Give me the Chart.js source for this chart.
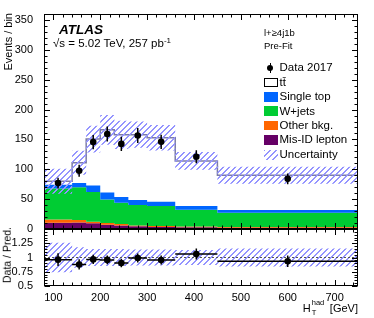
<!DOCTYPE html>
<html>
<head>
<meta charset="utf-8">
<script src="https://cdn.jsdelivr.net/npm/chart.js"></script>
<style>
  html, body { margin: 0; padding: 0; background: #fff; }
  #wrap { position: relative; width: 374px; height: 318px; overflow: hidden; font-family: 'Liberation Sans', Arial, Helvetica, sans-serif; color: #000; }
  #wrap canvas { position: absolute; left: 0; top: 0; }
  .t { position: absolute; white-space: nowrap; line-height: 1; }
  .rot { transform-origin: 0 0; transform: rotate(-90deg) translate(-100%, -50%); }
  .sw { position: absolute; box-sizing: border-box; width: 14px; height: 9.5px; }
</style>
</head>
<body>
<div id="wrap">
  <canvas id="c" width="374" height="318"></canvas>
  <div class="t" style="left:59px; top:22.5px; font-size:13.5px; font-weight:bold; font-style:italic;">ATLAS</div>
  <div class="t" style="left:53px; top:36.5px; font-size:11.5px;">√s = 5.02 TeV, 257 pb<sup style="font-size:8px; vertical-align:4px;">-1</sup></div>
  <div class="t" style="left:264px; top:28px; font-size:9.5px;">l+≥4j1b</div>
  <div class="t" style="left:264px; top:41px; font-size:9.5px;">Pre-Fit</div>
  <div class="t rot" style="left:7.5px; top:13px; font-size:11px;">Events / bin</div>
  <div class="t rot" style="left:7px; top:227px; font-size:10.5px;">Data / Pred.</div>
  <div class="t" style="right:16px; top:302px; font-size:11px;">H<span style="display:inline-block; position:relative; width:13px; height:10px;"><span style="position:absolute; left:1px; top:-3px; font-size:7.5px;">had</span><span style="position:absolute; left:1px; top:7px; font-size:7.5px;">T</span></span>&nbsp; [GeV]</div>
  <div id="legend"></div>
</div>
<script>
// bin edges of H_T^had [GeV]
const edges = [80, 140, 170, 200, 230, 260, 300, 360, 450, 750];

// pre-fit predictions per bin
const misid = [10.5, 11, 9.5, 7, 6, 4.5, 3.5, 3, 2];
const otherBkg = [5.5, 4, 2.5, 3, 2.5, 1.5, 1.5, 1, 1.5];
const wjets = [52, 55, 50, 39.6, 35.5, 34, 33.5, 28.3, 23.8];
const singleTop = [6, 7, 11, 11.4, 9.5, 8.5, 7.2, 6.2, 4.5];
const ttbar = [6, 34, 77.5, 105, 104.2, 109.5, 107, 75.5, 58.2];

// relative uncertainty of the prediction
const relUnc = [0.26, 0.18, 0.15, 0.15, 0.15, 0.14, 0.14, 0.13, 0.16];

// data 2017
const dataVals = [77, 97.5, 145.5, 159, 142.5, 156.5, 146, 121, 84];
const dataErr = [9, 10, 12, 12.5, 12, 12.5, 12, 11, 9];

const COL = { misid: '#660066', other: '#ff6600', wjets: '#00cc33', stop: '#0066ff', total: '#7c7ca6', hatch: '#9494ff' };

const N = edges.length - 1;
const centers = edges.slice(0, -1).map((e, i) => (e + edges[i + 1]) / 2);

function steps(vals) {
  const pts = [];
  vals.forEach((v, i) => { pts.push({ x: edges[i], y: v }, { x: edges[i + 1], y: v }); });
  return pts;
}
function vbars(xs, ys, errs) {
  const pts = [];
  ys.forEach((v, i) => { pts.push({ x: xs[i], y: v - errs[i] }, { x: xs[i], y: v + errs[i] }, { x: xs[i], y: null }); });
  return pts;
}
function hbars(ys) {
  const pts = [];
  ys.forEach((v, i) => { pts.push({ x: edges[i], y: v }, { x: edges[i + 1], y: v }, { x: edges[i + 1], y: null }); });
  return pts;
}

// "///" hatch tile, 2px wide strokes
const TS = 6;
const tile = document.createElement('canvas');
tile.width = TS; tile.height = TS;
(function () {
  const g = tile.getContext('2d');
  g.fillStyle = COL.hatch;
  for (let i = 0; i < TS; i++) g.fillRect(i, TS - 1 - i, 1, 1), g.fillRect((i + 1) % TS, TS - 1 - i, 1, 1);
})();
const pat = tile.getContext('2d').createPattern(tile, 'repeat');

let cum = new Array(N).fill(0);
const tops = [misid, otherBkg, wjets, singleTop, ttbar].map(arr => (cum = cum.map((c, i) => c + arr[i])));
const total = tops[4];
const bandUp = total.map((t, i) => t * (1 + relUnc[i]));
const bandLo = total.map((t, i) => t * (1 - relUnc[i]));
const ratio = dataVals.map((d, i) => d / total[i]);
const ratioErr = dataErr.map((e, i) => e / total[i]);

const datasets = [
  { data: steps(tops[0]), yAxisID: 'y', borderWidth: 0, backgroundColor: COL.misid, fill: 'origin' },
  { data: steps(tops[1]), yAxisID: 'y', borderWidth: 0, backgroundColor: COL.other, fill: 0 },
  { data: steps(tops[2]), yAxisID: 'y', borderWidth: 0, backgroundColor: COL.wjets, fill: 1 },
  { data: steps(tops[3]), yAxisID: 'y', borderWidth: 0, backgroundColor: COL.stop, fill: 2 },
  { data: steps(total), yAxisID: 'y', borderWidth: 1.5, borderColor: COL.total, fill: false },
  { data: steps(bandUp), yAxisID: 'y', borderWidth: 0, backgroundColor: pat, fill: 6 },
  { data: steps(bandLo), yAxisID: 'y', borderWidth: 0, fill: false },
  { data: vbars(centers, dataVals, dataErr), yAxisID: 'y', borderWidth: 1.5, borderColor: '#000', fill: false },
  { data: centers.map((x, i) => ({ x, y: dataVals[i] })), yAxisID: 'y', showLine: false, pointRadius: 3.3, pointBackgroundColor: '#000', pointBorderWidth: 0 },
  { data: steps(relUnc.map(u => 1 + u)), yAxisID: 'yr', borderWidth: 0, backgroundColor: pat, fill: 10 },
  { data: steps(relUnc.map(u => 1 - u)), yAxisID: 'yr', borderWidth: 0, fill: false },
  { data: [{ x: edges[0], y: 1 }, { x: edges[N], y: 1 }], yAxisID: 'yr', borderWidth: 1, borderColor: '#555', borderDash: [2, 2], fill: false },
  { data: hbars(ratio), yAxisID: 'yr', borderWidth: 1.5, borderColor: '#000', fill: false },
  { data: vbars(centers, ratio, ratioErr), yAxisID: 'yr', borderWidth: 1.5, borderColor: '#000', fill: false },
  { data: centers.map((x, i) => ({ x, y: ratio[i] })), yAxisID: 'yr', showLine: false, pointRadius: 3.3, pointBackgroundColor: '#000', pointBorderWidth: 0 }
];
datasets.forEach((d, i) => { d.order = datasets.length - i; d.type = 'line'; });

const tickFont = { family: "'Liberation Sans', Arial, Helvetica, sans-serif", size: 11 };

// frame with inward major/minor ticks on both panels
const framePlugin = {
  id: 'frame',
  afterDraw(chart) {
    const { ctx, chartArea: a, scales } = chart;
    const x = scales.x;
    ctx.save();
    ctx.strokeStyle = '#000';
    ctx.lineWidth = 1;
    const L = Math.round(a.left) + 0.5, R = Math.round(a.right) - 0.5;
    [[scales.y, 10], [scales.yr, 0.05]].forEach(([ys, minor]) => {
      const T = Math.round(ys.top) + 0.5, B = Math.round(ys.bottom) - 0.5;
      ctx.strokeRect(L, T, R - L, B - T);
      ctx.beginPath();
      for (let k = Math.ceil(ys.min / minor - 1e-6); k <= Math.floor(ys.max / minor + 1e-6); k++) {
        const len = k % 5 === 0 ? 5.5 : 3;
        const py = Math.round(ys.getPixelForValue(k * minor)) + 0.5;
        ctx.moveTo(L, py); ctx.lineTo(L + len, py);
        ctx.moveTo(R, py); ctx.lineTo(R - len, py);
      }
      for (let k = Math.ceil(x.min / 20); k <= Math.floor(x.max / 20); k++) {
        const len = k % 5 === 0 ? 5.5 : 3;
        const px = Math.round(x.getPixelForValue(k * 20)) + 0.5;
        ctx.moveTo(px, B); ctx.lineTo(px, B - len);
        ctx.moveTo(px, T); ctx.lineTo(px, T + len);
      }
      ctx.stroke();
    });
    ctx.restore();
  }
};

new Chart(document.getElementById('c'), {
  type: 'line',
  data: { datasets },
  options: {
    responsive: false,
    animation: false,
    devicePixelRatio: 1,
    layout: { padding: { top: 14, right: 16, left: 0, bottom: 0 } },
    elements: { point: { radius: 0 }, line: { tension: 0 } },
    plugins: { legend: { display: false }, tooltip: { enabled: false } },
    scales: {
      x: {
        type: 'linear', min: 80, max: 750,
        grid: { display: false }, border: { display: false },
        ticks: { stepSize: 100, includeBounds: false, autoSkip: false, maxRotation: 0, padding: -3, color: '#000', font: tickFont },
        afterFit(s) { s.height = 32; }
      },
      y: {
        type: 'linear', min: 0, max: 360, position: 'left', stack: 'panels', stackWeight: 215, weight: 2,
        grid: { display: false }, border: { display: false },
        ticks: { stepSize: 50, includeBounds: false, autoSkip: false, padding: 3, color: '#000', font: tickFont },
        afterFit(s) { s.width = 44; }
      },
      yr: {
        type: 'linear', min: 0.5, max: 1.5, position: 'left', stack: 'panels', stackWeight: 57, weight: 1,
        grid: { display: false }, border: { display: false },
        ticks: { stepSize: 0.25, autoSkip: false, padding: 3, color: '#000', font: tickFont, callback: v => (v > 1.4 ? '' : v) },
        afterFit(s) { s.width = 44; }
      }
    }
  },
  plugins: [framePlugin]
});

// legend
const legendItems = [
  { label: 'Data 2017', kind: 'data' },
  { label: 't\u0074\u0304', kind: 'box', fill: '#fff', border: '#000' },
  { label: 'Single top', kind: 'box', fill: COL.stop },
  { label: 'W+jets', kind: 'box', fill: COL.wjets },
  { label: 'Other bkg.', kind: 'box', fill: COL.other },
  { label: 'Mis-ID lepton', kind: 'box', fill: COL.misid },
  { label: 'Uncertainty', kind: 'hatch' }
];
const leg = document.getElementById('legend');
const tileUrl = tile.toDataURL();
legendItems.forEach((it, i) => {
  const cy = 68 + i * 14.4;
  let sw;
  if (it.kind === 'data') {
    sw = `<div style="position:absolute; left:269.5px; top:${cy - 5}px; width:1.5px; height:10px; background:#000;"></div>` +
         `<div style="position:absolute; left:267px; top:${cy - 3.2}px; width:6.4px; height:6.4px; border-radius:50%; background:#000;"></div>`;
  } else if (it.kind === 'hatch') {
    sw = `<div class="sw" style="left:264px; top:${Math.round(cy - 4.75)}px; background-image:url(${tileUrl});"></div>`;
  } else {
    sw = `<div class="sw" style="left:264px; top:${cy - 4.75}px; background:${it.fill}; ${it.border ? 'border:1px solid ' + it.border + ';' : ''}"></div>`;
  }
  leg.insertAdjacentHTML('beforeend', sw + `<div class="t" style="left:279.5px; top:${cy - 5.7}px; font-size:11.5px;">${it.label}</div>`);
});
</script>
</body>
</html>
